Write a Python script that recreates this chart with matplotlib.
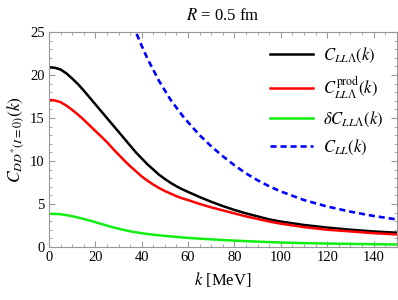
import matplotlib

matplotlib.use("Agg")
import matplotlib.pyplot as plt
from matplotlib.ticker import MultipleLocator

plt.rcParams["font.family"] = ["Liberation Serif", "DejaVu Serif"]
plt.rcParams["mathtext.fontset"] = "stix"

# Values (k in MeV).
k = [0, 2.5, 5, 7.5, 10, 12.5, 15, 17.5, 20, 22.5, 25, 27.5, 30, 32.5, 35, 37.5,
     40, 42.5, 45, 47.5, 50, 52.5, 55, 57.5, 60, 65, 70, 75, 80, 85, 90, 95,
     100, 110, 120, 130, 140, 150]
c_lll = [20.9, 20.85, 20.65, 20.2, 19.6, 18.95, 18.2, 17.4, 16.6, 15.8, 15.0, 14.2,
         13.4, 12.6, 11.8, 11.0, 10.3, 9.6, 9.0, 8.4, 7.9, 7.45, 7.05, 6.7, 6.4,
         5.8, 5.25, 4.75, 4.3, 3.9, 3.55, 3.2, 2.95, 2.55, 2.25, 2.0, 1.8, 1.65]
c_prod = [17.1, 17.05, 16.85, 16.45, 15.95, 15.4, 14.8, 14.15, 13.5, 12.85, 12.2,
          11.45, 10.75, 10.05, 9.4, 8.8, 8.2, 7.7, 7.25, 6.85, 6.5, 6.2, 5.9, 5.65,
          5.45, 5.0, 4.6, 4.25, 3.9, 3.55, 3.25, 2.95, 2.7, 2.3, 2.0, 1.8, 1.6, 1.45]
delta_c = [3.85, 3.84, 3.8, 3.7, 3.57, 3.42, 3.25, 3.07, 2.88, 2.68, 2.48, 2.29,
           2.12, 1.96, 1.82, 1.7, 1.59, 1.5, 1.42, 1.35, 1.28, 1.22, 1.16, 1.1,
           1.05, 0.96, 0.88, 0.8, 0.73, 0.67, 0.61, 0.56, 0.51, 0.44, 0.39, 0.35,
           0.31, 0.28]

k_ll = [35, 37.5, 40, 42.5, 45, 47.5, 50, 52.5, 55, 57.5, 60, 65, 70, 75, 80, 85,
        90, 95, 100, 110, 120, 130, 140, 150]
c_ll = [27.0, 25.0, 23.4, 21.9, 20.6, 19.3, 18.2, 17.1, 16.2, 15.3, 14.5, 13.0,
        11.7, 10.55, 9.5, 8.55, 7.75, 7.05, 6.45, 5.45, 4.7, 4.1, 3.6, 3.2]

fig = plt.figure(figsize=(3.98, 3.0), dpi=100)
ax = fig.add_axes([0.123, 0.177, 0.874, 0.716])

ax.plot(k, c_lll, color="black", lw=1.8, label=r"$C_{LL\Lambda}(k)$")
ax.plot(k, c_prod, color="#ff0000", lw=1.8, label=r"$C^{\mathrm{prod}}_{LL\Lambda}(k)$")
ax.plot(k, delta_c, color="#11ee11", lw=1.8, label=r"$\delta C_{LL\Lambda}(k)$")
ax.plot(k_ll, c_ll, color="#0000ff", lw=1.9, ls=(0, (2.3, 1.5)), label=r"$C_{LL}(k)$")

ax.set_xlim(0, 150)
ax.set_ylim(0, 25)
ax.xaxis.set_major_locator(MultipleLocator(20))
ax.xaxis.set_minor_locator(MultipleLocator(5))
ax.yaxis.set_major_locator(MultipleLocator(5))
ax.yaxis.set_minor_locator(MultipleLocator(1))
ax.tick_params(which="both", direction="in", top=True, right=True,
               color="#999999", labelsize=10.5, pad=3)
ax.tick_params(which="major", length=4.5, width=0.8)
ax.tick_params(which="minor", length=2.5, width=0.6)
for spine in ax.spines.values():
    spine.set_color("#999999")
    spine.set_linewidth(0.8)

ax.set_xlabel(r"$k$ [MeV]", fontsize=12, labelpad=4)
ax.set_ylabel(r"$C_{DD^{*}(I=0)}(k)$", fontsize=12.5, labelpad=2)
ax.set_title(r"$R$ = 0.5 fm", fontsize=12, pad=9)

ax.legend(loc="upper right", frameon=False, fontsize=12, handlelength=2.6,
          handletextpad=0.6, labelspacing=0.55, borderaxespad=0.4)

fig.savefig("out.png", dpi=100)
